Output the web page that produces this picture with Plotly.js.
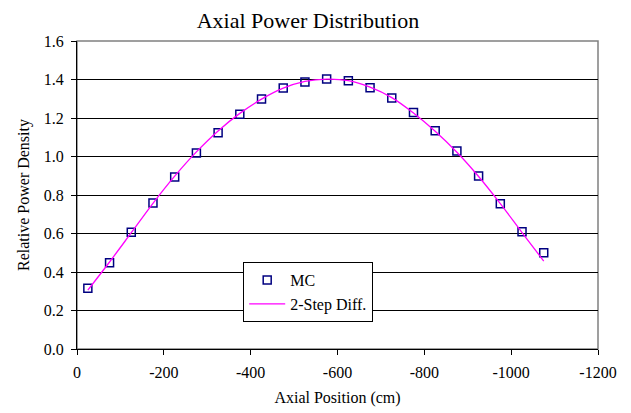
<!DOCTYPE html>
<html>
<head>
<meta charset="utf-8">
<script src="https://cdn.plot.ly/plotly-3.0.1.min.js"></script>
<style>html,body{margin:0;padding:0;background:#fff;}#chart{width:631px;height:413px;}</style>
</head>
<body>
<div id="chart"></div>
<script>
// Axial positions (cm)
const positions = [-25, -75, -125, -175, -225, -275, -325, -375, -425, -475, -525,
                   -575, -625, -675, -725, -775, -825, -875, -925, -975, -1025, -1075];
// Monte Carlo relative power density
const mcValues = [0.315, 0.448, 0.606, 0.758, 0.894, 1.018, 1.124, 1.219, 1.299, 1.356, 1.387,
                  1.403, 1.394, 1.357, 1.304, 1.228, 1.134, 1.029, 0.899, 0.755, 0.609, 0.500];
// 2-Step diffusion relative power density
const diffValues = [0.306, 0.452, 0.604, 0.757, 0.898, 1.024, 1.133, 1.224, 1.298, 1.355, 1.390,
                    1.402, 1.394, 1.360, 1.306, 1.226, 1.131, 1.022, 0.896, 0.755, 0.605, 0.457];
// Tick labels
const xTickVals = [0, -200, -400, -600, -800, -1000, -1200];
const xTickText = ['0', '-200', '-400', '-600', '-800', '-1000', '-1200'];
const yTickVals = [0, 0.2, 0.4, 0.6, 0.8, 1.0, 1.2, 1.4, 1.6];
const yTickText = ['0.0', '0.2', '0.4', '0.6', '0.8', '1.0', '1.2', '1.4', '1.6'];

const FONT = "Liberation Serif";

const traces = [
  {
    x: positions, y: mcValues, name: 'MC', type: 'scatter', mode: 'markers',
    legendgroup: 'a',
    marker: {symbol: 'square-open', size: 8, color: '#000080', line: {width: 1.5, color: '#000080'}}
  },
  {
    x: positions, y: diffValues, name: '2-Step Diff.', type: 'scatter', mode: 'lines',
    legendgroup: 'b',
    line: {color: '#FF00FF', width: 1.3, shape: 'spline'}
  }
];

const layout = {
  width: 631, height: 413,
  paper_bgcolor: '#fff', plot_bgcolor: '#fff',
  margin: {l: 77, r: 33, t: 41, b: 64},
  font: {family: FONT, size: 16, color: '#000'},
  title: {text: 'Axial Power Distribution', font: {family: FONT, size: 22, color: '#000'},
          x: 0.488, xref: 'container', y: 0.952, yref: 'container', yanchor: 'middle'},
  xaxis: {
    range: [0, -1200], tickvals: xTickVals, ticktext: xTickText,
    showgrid: false, zeroline: false, showline: true, linecolor: '#000', linewidth: 1,
    ticks: 'outside', ticklen: 5, tickcolor: '#000', ticklabelstandoff: 4,
    tickfont: {family: FONT, size: 16, color: '#000'},
    title: {text: 'Axial Position (cm)', font: {family: FONT, size: 16, color: '#000'}, standoff: 11}
  },
  yaxis: {
    range: [0, 1.6], tickvals: yTickVals, ticktext: yTickText,
    showgrid: true, gridcolor: '#000', gridwidth: 1, zeroline: false,
    showline: true, linecolor: '#000', linewidth: 1,
    ticks: 'outside', ticklen: 5, tickcolor: '#000', ticklabelstandoff: 4,
    tickfont: {family: FONT, size: 16, color: '#000'},
    title: {text: 'Relative Power Density', font: {family: FONT, size: 16, color: '#000'}, standoff: 10}
  },
  shapes: [
    {type: 'rect', xref: 'paper', yref: 'paper', x0: 0, x1: 1, y0: 0, y1: 1,
     line: {color: '#808080', width: 1.5}, layer: 'below'}
  ],
  legend: {
    x: 0.319, y: 0.282, xanchor: 'left', yanchor: 'top',
    bgcolor: '#fff', bordercolor: '#000', borderwidth: 1,
    font: {family: FONT, size: 16, color: '#000'}, itemwidth: 36, tracegroupgap: 0,
    traceorder: 'grouped'
  },
  showlegend: true
};

Plotly.newPlot('chart', traces, layout, {displayModeBar: false, staticPlot: true});
</script>
</body>
</html>
